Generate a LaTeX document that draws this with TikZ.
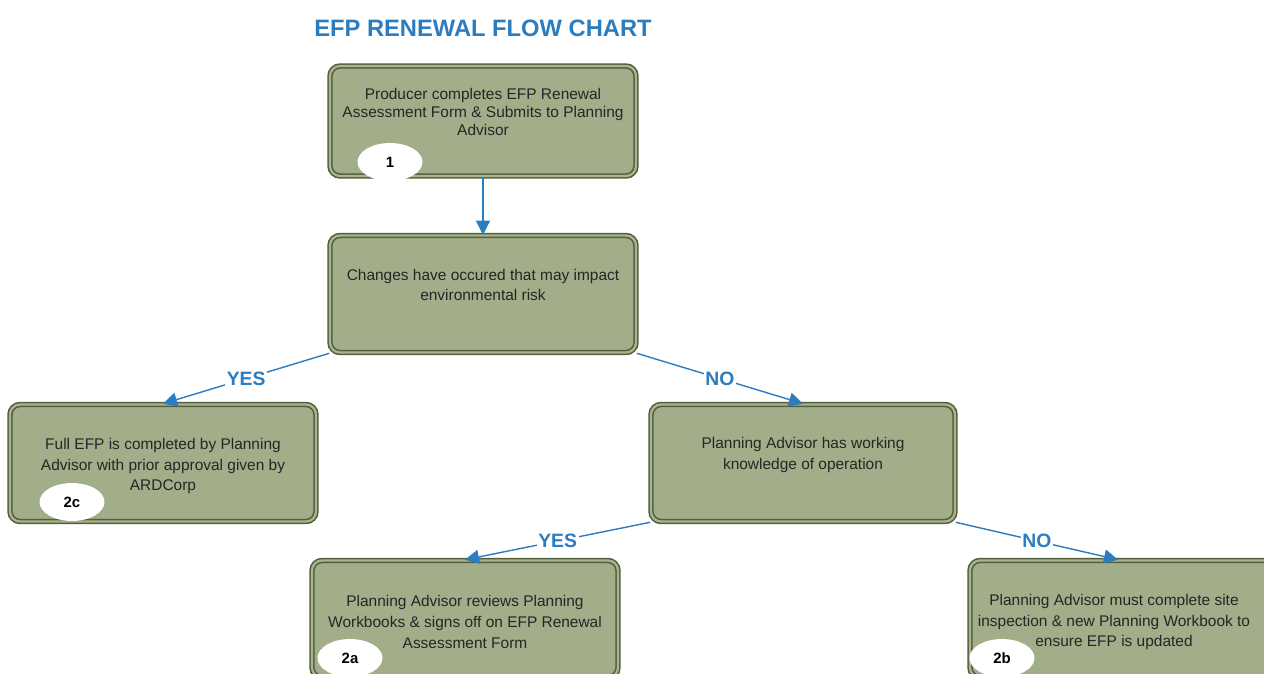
\documentclass[tikz,border=0pt]{standalone}
\usepackage{fontspec}
\setmainfont{Liberation Sans}
\usetikzlibrary{arrows.meta,shapes.geometric}
\definecolor{boxfill}{HTML}{A2AD89}
\definecolor{boxedge}{HTML}{535E3C}
\definecolor{boxgap}{HTML}{A9B38F}
\definecolor{flowblue}{HTML}{2C7CC0}
\tikzset{
	stepbox/.style={draw=boxedge, line width=0.9pt, double=boxgap, double distance=1.3pt,
		fill=boxfill, rounded corners=2mm, minimum width=61.2mm, minimum height=23.4mm, inner sep=0pt},
	boxtext/.style={font=\fontsize{8.8}{11.8}\selectfont, align=center, text=black!85, inner sep=0pt},
	badge/.style={ellipse, fill=white, minimum width=13mm, minimum height=7.6mm, inner sep=0pt,
		font=\fontsize{8.5}{10}\selectfont\bfseries},
	flow/.style={draw=flowblue, line width=0.8pt, -{Triangle[length=8pt,width=8pt]}},
	answer/.style={fill=white, inner sep=1pt, text=flowblue, font=\fontsize{11}{12}\selectfont\bfseries}
}

\begin{document}
\begin{tikzpicture}[x=0.2mm, y=-0.2mm]
			%%%%% START %%%%%
			
			\useasboundingbox (0, 0) rectangle (1264, 673);
			
			\node[text=flowblue, font=\fontsize{13.5}{15}\selectfont\bfseries] (title) at (483, 28) {EFP RENEWAL FLOW CHART};
			
			\node[stepbox, minimum height=22mm] (start) at (483, 121) {};
			\node[boxtext, font=\fontsize{8.8}{10}\selectfont] (starttext) at (483, 112) {Producer completes EFP Renewal\\Assessment Form \& Submits to Planning\\Advisor};
			
			\node[stepbox] (changes) at (483, 294) {};
			\node[boxtext] (changestext) at (483, 285) {Changes have occured that may impact\\environmental risk};
			
			\node[stepbox] (full) at (163, 463) {};
			\node[boxtext] (fulltext) at (163, 466) {Full EFP is completed by Planning\\Advisor with prior approval given by\\ARDCorp};
			
			\node[stepbox, minimum width=60.8mm] (knows) at (803, 463) {};
			\node[boxtext] (knowstext) at (803, 455) {Planning Advisor has working\\knowledge of operation};
			
			\node[stepbox] (review) at (465, 619) {};
			\node[boxtext] (reviewtext) at (465, 622) {Planning Advisor reviews Planning\\Workbooks \& signs off on EFP Renewal\\Assessment Form};
			
			\node[stepbox] (inspect) at (1123, 619) {};
			\node[boxtext] (inspecttext) at (1114, 622) {Planning Advisor must complete site\\inspection \& new Planning Workbook to\\ensure EFP is updated};
			
			\node[badge] (b1) at (390, 162) {1};
			\node[badge] (b2c) at (72, 502) {2c};
			\node[badge] (b2a) at (350, 658) {2a};
			\node[badge] (b2b) at (1002, 658) {2b};
			
			\draw[flow] (start.south) -- (changes.north);
			\draw[flow] (changes.south west) -- node[answer] (yes1) {YES} (full.north);
			\draw[flow] (changes.south east) -- node[answer] (no1) {NO} (knows.north);
			\draw[flow] (knows.south west) -- node[answer] (yes2) {YES} (review.north);
			\draw[flow] (knows.south east) -- node[answer] (no2) {NO} ([xshift=-1mm]inspect.north);
			
			%%%%% END %%%%%
\end{tikzpicture}
\end{document}
